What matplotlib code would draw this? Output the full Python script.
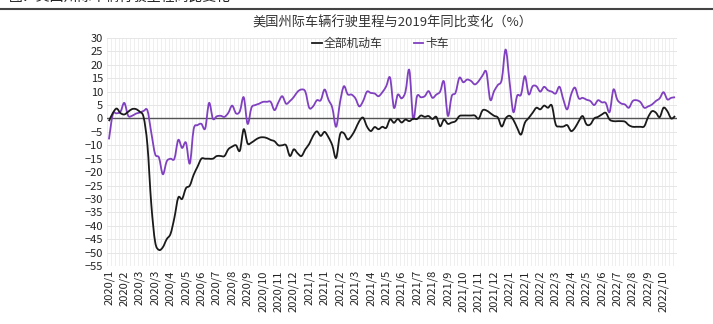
import numpy as np
import matplotlib
matplotlib.use("Agg")
import matplotlib.pyplot as plt
from matplotlib.lines import Line2D
from matplotlib.path import Path
from matplotlib.patches import PathPatch

plt.rcParams['font.family'] = ['Noto Sans CJK SC', 'DejaVu Sans']

# weekly YoY change vs 2019 (%), interstate vehicle miles travelled
all_vehicles = [
    -1, 2, 3.7, 2, 1.5, 2.5, 3.5, 3.5, 2.5, 0.5,
    -10, -32, -46, -49, -48, -45, -43, -37, -29.5, -30,
    -26, -25, -21, -18, -15, -15, -15, -15, -14, -14,
    -14, -11.5, -10.5, -10, -12, -4, -9.3, -9, -8, -7.2,
    -7, -7.3, -8, -8.5, -10, -10, -10, -14, -11.5, -13,
    -14, -11.5, -9.5, -6.5, -4.8, -6.5, -5, -7, -10, -14.7,
    -6, -5.5, -7.8, -6.5, -4, -1, 0.3, -3, -4.7, -3.2,
    -4, -3.1, -3.5, -0.3, -1.6, -0.2, -1.5, -0.4, -1, -0.1,
    -0.2, 1.1, 0.6, 0.9, -0.2, 0.6, -2.9, -0.4, -2, -1.5,
    -1, 0.9, 1.1, 1.1, 1.1, 1.1, -0.1, 3, 3, 2,
    1, 0.3, -3, 0, 1, -0.5, -3.5, -6, -1.6, 0.2,
    2.1, 4, 3.4, 4.8, 4, 4.8, -2.2, -3, -3, -2.5,
    -4.7, -3.5, -1, 0.9, -2.2, -2.2, 0, 0.6, 1.5, 2.1,
    -0.4, -1, -1, -1, -1.2, -2.5, -3.1, -3.1, -3.1, -2.9,
    0.5, 2.7, 2.2, 0.5, 4, 2.7, 0, 0.9,
]
trucks = [
    -7.8, 1.5, 1.9, 2.5, 5.8, 1, 1, 1.8, 2.2, 2.8,
    3, -5.3, -13.3, -14.6, -20.8, -16, -15, -15, -8, -11,
    -9, -16.8, -4, -2.5, -2, -3.7, 5.8, -0.1, 0.8, 1,
    0.6, 2.1, 4.8, 1.9, 2.7, 7.9, -2, 4, 5, 5.5,
    6.2, 6.2, 6.2, 3.1, 6, 8.3, 5.5, 6.5, 8, 10,
    10.8, 10, 4, 4.5, 6.8, 6.8, 10.8, 7, 4, -3.1,
    6, 12, 9, 8.9, 7.5, 4.5, 6.5, 10, 9.5, 9.3,
    8.3, 9.8, 12, 15.2, 4, 8.9, 7.5, 10, 18, -0.1,
    8.3, 7.9, 8.3, 10.2, 7.7, 8.9, 10, 13.7, 1, 8.3,
    9.6, 15.2, 13.5, 14.5, 14, 12.7, 13.9, 16, 17.3, 7,
    10.2, 12.5, 14.5, 25.7, 14, 2.4, 8.5, 8.9, 15.8, 9,
    12, 12, 10, 11.8, 10.5, 10, 9.3, 11.8, 7, 3.4,
    8.9, 11.5, 7.5, 7.7, 7, 6.5, 5, 6.8, 6, 5.8,
    2.4, 10.8, 7, 5.6, 5.2, 4, 6.5, 6.8, 6.1, 4,
    4.5, 5.2, 6.5, 7.5, 9.8, 7.1, 7.7, 7.9,
]
# category labels shown every 4th week
tick_labels = [
    "2020/1", "2020/2", "2020/3", "2020/3", "2020/4", "2020/5", "2020/6",
    "2020/7", "2020/8", "2020/9", "2020/10", "2020/11", "2020/12",
    "2021/1", "2021/1", "2021/2", "2021/3", "2021/4", "2021/5", "2021/6",
    "2021/7", "2021/8", "2021/9", "2021/10", "2021/11", "2021/12",
    "2022/1", "2022/1", "2022/2", "2022/3", "2022/4", "2022/5", "2022/6",
    "2022/7", "2022/8", "2022/9", "2022/10",
]

BLACK = "#1a1a1a"
PURPLE = "#8040c0"


def smooth_path(xs, ys):
    """Catmull-Rom curve through the points, as cubic bezier segments."""
    p = np.column_stack([xs, ys]).astype(float)
    ext = np.vstack([p[0], p, p[-1]])
    verts, codes = [p[0]], [Path.MOVETO]
    for i in range(len(p) - 1):
        p0, p1, p2, p3 = ext[i], ext[i + 1], ext[i + 2], ext[i + 3]
        verts += [p1 + (p2 - p0) / 6, p2 - (p3 - p1) / 6, p2]
        codes += [Path.CURVE4] * 3
    return Path(verts, codes)


n = len(all_vehicles)
x = np.arange(n)

fig = plt.figure(figsize=(7.13, 3.24), dpi=100)
ax = fig.add_axes([107 / 713, 1 - 266 / 324, 570 / 713, 228 / 324])

# light weekly grid + 5-pt horizontal grid
for g in np.arange(-0.5, n + 0.5, 1):
    ax.axvline(g, color="#ececec", lw=0.6, zorder=0)
for g in range(-55, 31, 5):
    ax.axhline(g, color="#e6e6e6", lw=0.7, zorder=0)
ax.axhline(0, color="#555555", lw=1.0, zorder=1)

for ys, col, z in [(trucks, PURPLE, 2), (all_vehicles, BLACK, 3)]:
    ax.add_patch(PathPatch(smooth_path(x, ys), facecolor="none", edgecolor=col,
                           lw=1.3, joinstyle="round", zorder=z))

ax.set_xlim(-0.5, n - 0.5)
ax.set_ylim(-55, 30)
ax.set_yticks(range(-55, 31, 5))
ax.set_xticks(x[::4][:len(tick_labels)])
ax.set_xticklabels(tick_labels, rotation=90)
ax.tick_params(axis="both", length=0, labelsize=8, colors="#222222", pad=3)
for s in ax.spines.values():
    s.set_visible(False)

ax.set_title("美国州际车辆行驶里程与2019年同比变化（%）", fontsize=9.5,
             color="#333333", pad=8)
handles = [Line2D([], [], color=BLACK, lw=1.3), Line2D([], [], color=PURPLE, lw=1.3)]
ax.legend(handles, ["全部机动车", "卡车"], loc="center", bbox_to_anchor=(0.48, 0.975),
          ncol=2, frameon=False, fontsize=8.5, handlelength=0.8, handletextpad=0.2,
          columnspacing=2.6, labelcolor="#333333")

# caption header, clipped by the top edge
fig.text(0.012, 1 + 3 / 324, "图：美国州际车辆行驶里程同比变化", fontsize=10,
         va="center", ha="left", color="#222222")
fig.add_artist(Line2D([0, 1], [1 - 9 / 324, 1 - 9 / 324], color="#444444",
                      lw=1.5, transform=fig.transFigure))

fig.savefig("out.png", dpi=100)
